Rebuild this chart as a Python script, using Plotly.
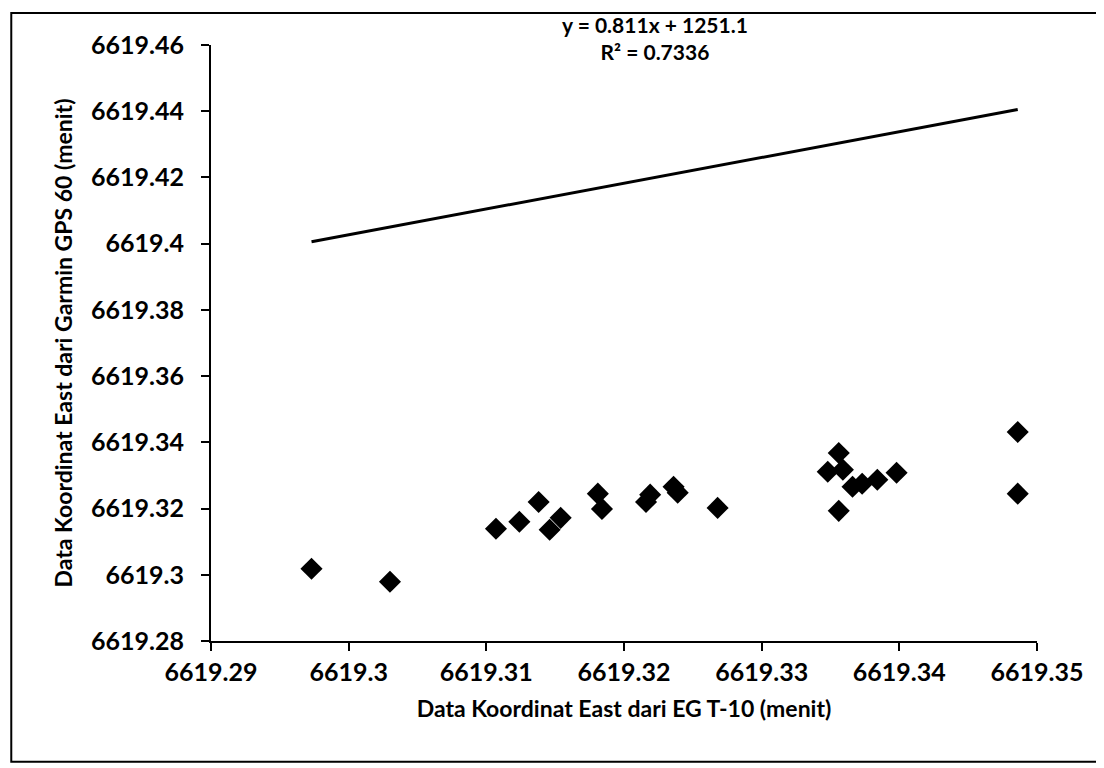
import plotly.graph_objects as go

# Data Koordinat East: EG T-10 (x) vs Garmin GPS 60 (y), in menit
x_eg_t10 = [6619.2973, 6619.3030, 6619.3107, 6619.3124, 6619.3138, 6619.3146,
            6619.3154, 6619.3181, 6619.3184, 6619.3216, 6619.3219, 6619.3236,
            6619.3239, 6619.3268, 6619.3348, 6619.3356, 6619.3359, 6619.3356,
            6619.3366, 6619.3373, 6619.3384, 6619.3398, 6619.3486, 6619.3486]
y_garmin = [6619.3018, 6619.2979, 6619.3139, 6619.3160, 6619.3220, 6619.3136,
            6619.3172, 6619.3245, 6619.3199, 6619.3220, 6619.3242, 6619.3266,
            6619.3248, 6619.3202, 6619.3311, 6619.3368, 6619.3317, 6619.3193,
            6619.3266, 6619.3275, 6619.3287, 6619.3308, 6619.3431, 6619.3245]

trend_x = [6619.2973, 6619.3486]
trend_y = [6619.4006, 6619.4405]

x_ticks = [6619.29, 6619.30, 6619.31, 6619.32, 6619.33, 6619.34, 6619.35]
x_tick_labels = ["6619.29", "6619.3", "6619.31", "6619.32", "6619.33", "6619.34", "6619.35"]
y_ticks = [6619.28, 6619.30, 6619.32, 6619.34, 6619.36, 6619.38, 6619.40, 6619.42, 6619.44, 6619.46]
y_tick_labels = ["6619.28", "6619.3", "6619.32", "6619.34", "6619.36", "6619.38",
                 "6619.4", "6619.42", "6619.44", "6619.46"]

equation_text = "y = 0.811x + 1251.1<br>R² = 0.7336"
x_title = "Data Koordinat East dari EG T-10 (menit)"
y_title = "Data Koordinat East dari Garmin GPS 60 (menit)"

FONT = "Lato"

fig = go.Figure()
fig.add_trace(go.Scatter(x=trend_x, y=trend_y, mode="lines",
                         line=dict(color="black", width=3), showlegend=False,
                         hoverinfo="skip"))
fig.add_trace(go.Scatter(x=x_eg_t10, y=y_garmin, mode="markers",
                         marker=dict(symbol="diamond", size=17, color="black"),
                         showlegend=False))

fig.update_layout(
    width=1104, height=768,
    margin=dict(l=203, r=75, t=37, b=135, autoexpand=False),
    paper_bgcolor="white", plot_bgcolor="white",
    font=dict(family=FONT, color="black"),
    xaxis=dict(range=[6619.29, 6619.35], tickvals=x_ticks, ticktext=x_tick_labels,
               showgrid=False, zeroline=False, showline=True, linecolor="black",
               linewidth=2, ticks="outside", ticklen=8, tickwidth=2, tickcolor="black",
               ticklabelstandoff=0,
               tickfont=dict(family=FONT, size=25, color="black", weight="bold"),
               title=dict(text=x_title, font=dict(family=FONT, size=23, color="black", weight="bold"),
                          standoff=16)),
    yaxis=dict(range=[6619.28, 6619.46], tickvals=y_ticks, ticktext=y_tick_labels,
               showgrid=False, zeroline=False, showline=True, linecolor="black",
               linewidth=2, ticks="outside", ticklen=8, tickwidth=2, tickcolor="black",
               ticklabelstandoff=12,
               tickfont=dict(family=FONT, size=25, color="black", weight="bold"),
               title=dict(text=y_title, font=dict(family=FONT, size=23, color="black", weight="bold"),
                          standoff=12)),
    annotations=[
        dict(text=equation_text, xref="paper", yref="paper",
             x=0.538, y=1.0117, xanchor="center", yanchor="middle", showarrow=False,
             align="center",
             font=dict(family=FONT, size=21, color="black", weight="bold")),
    ],
    shapes=[dict(type="rect", xref="paper", yref="paper",
                 x0=-0.2418, x1=1.0754, y0=-0.2024, y1=1.0537,
                 line=dict(color="black", width=2), fillcolor="rgba(0,0,0,0)")],
)

fig.write_html("out.html")
